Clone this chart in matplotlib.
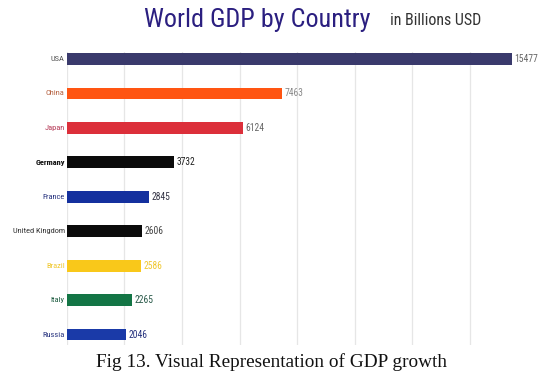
import matplotlib.pyplot as plt
from matplotlib import font_manager as fm

# ── data ──────────────────────────────────────────────
countries = ["USA", "China", "Japan", "Germany", "France",
             "United Kingdom", "Brazil", "Italy", "Russia"]
gdp = [15477, 7463, 6124, 3732, 2845, 2606, 2586, 2265, 2046]

# ── styles ────────────────────────────────────────────
bar_colors = ["#3a3a6c", "#ff5512", "#dc2f3a", "#0b0b0b", "#14309e",
              "#0b0b0b", "#f9c81a", "#137545", "#1a3aa8"]
name_colors = ["#555555", "#b5603f", "#b53855", "#111111", "#26327e",
               "#333333", "#f0c830", "#1d5c40", "#26327e"]
value_colors = ["#666666", "#8a8a8a", "#666666", "#222222", "#333344",
                "#444444", "#f0c830", "#2a5a4a", "#26327e"]

names = {f.name for f in fm.fontManager.ttflist}
NARROW = next((f for f in ["Roboto Condensed", "Liberation Sans Narrow", "Roboto",
                           "Liberation Sans"] if f in names), "DejaVu Sans")
SERIF = "Liberation Serif" if "Liberation Serif" in names else "DejaVu Serif"
FAM = [NARROW, "DejaVu Sans"]

fig = plt.figure(figsize=(5.49, 3.77), dpi=100)
fig.patch.set_facecolor("white")
ax = fig.add_axes([0.122, 0.085, 0.838, 0.777])

y = list(range(len(countries)))
ax.barh(y, gdp, height=0.34, color=bar_colors, edgecolor="none", zorder=3)

ax.set_xlim(0, 16000)
ax.set_ylim(8.3, -0.2)
ax.set_xticks(range(0, 16000, 2000))
ax.set_yticks([])
ax.tick_params(axis="x", length=0, labelbottom=False)
ax.xaxis.grid(True, color="#e6e6e6", linewidth=0.9, zorder=0)
for s in ax.spines.values():
    s.set_visible(False)

for i, (c, v) in enumerate(zip(countries, gdp)):
    ax.text(-80, i, c, ha="right", va="center", fontsize=6.0,
            family=FAM, color=name_colors[i],
            fontweight="bold" if c == "Germany" else "normal")
    ax.text(v + 90, i, str(v), ha="left", va="center", fontsize=6.9,
            family=FAM, color=value_colors[i])

fig.text(0.469, 0.948, "World GDP by Country", ha="center", va="center",
         fontsize=18.8, family=FAM, color="#2b1f80")
fig.text(0.794, 0.945, "in Billions USD", ha="center", va="center",
         fontsize=11.5, family=FAM, color="#333333")
fig.text(0.494, 0.04, "Fig 13. Visual Representation of GDP growth",
         ha="center", va="center", fontsize=13.9, family=[SERIF, "DejaVu Serif"],
         color="#111111")

fig.savefig("out.png", dpi=100, facecolor="white")
